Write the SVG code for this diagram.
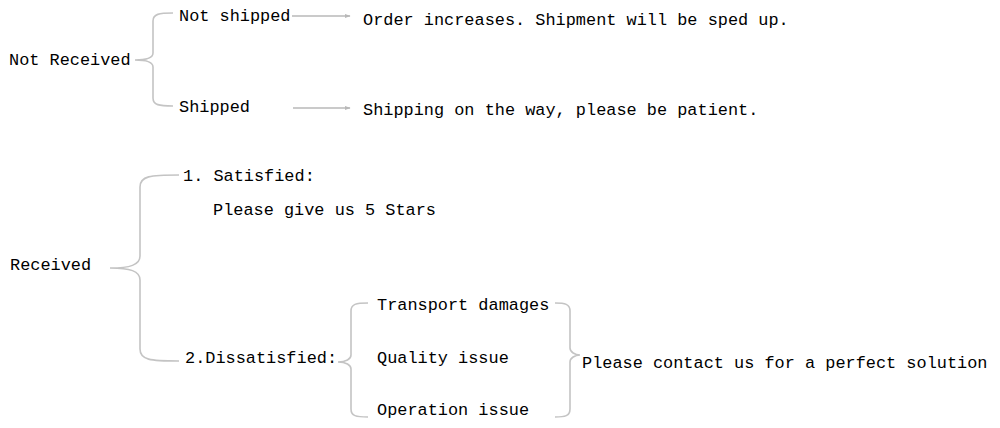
<svg xmlns="http://www.w3.org/2000/svg" width="1000" height="428" viewBox="0 0 1000 428">
<defs>
<style>
text{font-family:"Liberation Mono","DejaVu Sans Mono",monospace;font-size:16.9px;fill:#000}
.br{fill:none;stroke:#c4c4c4;stroke-width:1.6}
.ar{fill:none;stroke:#b8b8b8;stroke-width:1.3}
</style>
<marker id="ah" viewBox="0 0 10 10" refX="9" refY="5" markerWidth="6" markerHeight="6" orient="auto" markerUnits="userSpaceOnUse">
<path d="M0,1.5 L10,5 L0,8.5 Z" fill="#b8b8b8"/>
</marker>
</defs>
<rect width="1000" height="428" fill="#fff"/>
<g id="connectors">
<path class="br" d="M173,13 C159,13 153,14 153,21 L153,53 C153,58 146,60 135,60 C146,60 153,62 153,67 L153,98 C153,105 159,106 173,106"/>
<path class="ar" d="M292,16 L350,16" marker-end="url(#ah)"/>
<path class="ar" d="M293,108 L350,108" marker-end="url(#ah)"/>
<path class="br" d="M179,175 C150,175 140,176 140,187 L140,256 C140,265 130,268 110,268 C130,268 140,271 140,280 L140,349 C140,360 150,361 179,361"/>
<path class="br" d="M368,303 C356,303 351,304 351,311 L351,355 C351,359 346,362 338,362 C346,362 351,365 351,369 L351,409 C351,416 356,417 368,417"/>
<path class="br" d="M555,303 C565,303 570,304 570,311 L570,348 C570,352 575,355 580,355 C575,355 570,358 570,362 L570,409 C570,416 565,417 555,417"/>
</g>
<g id="not-received"><text x="9" y="65">Not Received</text></g>
<g id="not-shipped"><text x="179" y="21">Not shipped</text></g>
<g id="shipped"><text x="179" y="112">Shipped</text></g>
<g id="order-increases"><text x="363" y="25">Order increases. Shipment will be sped up.</text></g>
<g id="shipping-way"><text x="363" y="115">Shipping on the way, please be patient.</text></g>
<g id="received"><text x="10" y="270">Received</text></g>
<g id="satisfied"><text x="183" y="181">1. Satisfied:</text><text x="213" y="215">Please give us 5 Stars</text></g>
<g id="dissatisfied"><text x="185" y="363">2.Dissatisfied:</text></g>
<g id="transport"><text x="377" y="310">Transport damages</text></g>
<g id="quality"><text x="377" y="363">Quality issue</text></g>
<g id="operation"><text x="377" y="415">Operation issue</text></g>
<g id="contact"><text x="582" y="368">Please contact us for a perfect solution</text></g>
</svg>
